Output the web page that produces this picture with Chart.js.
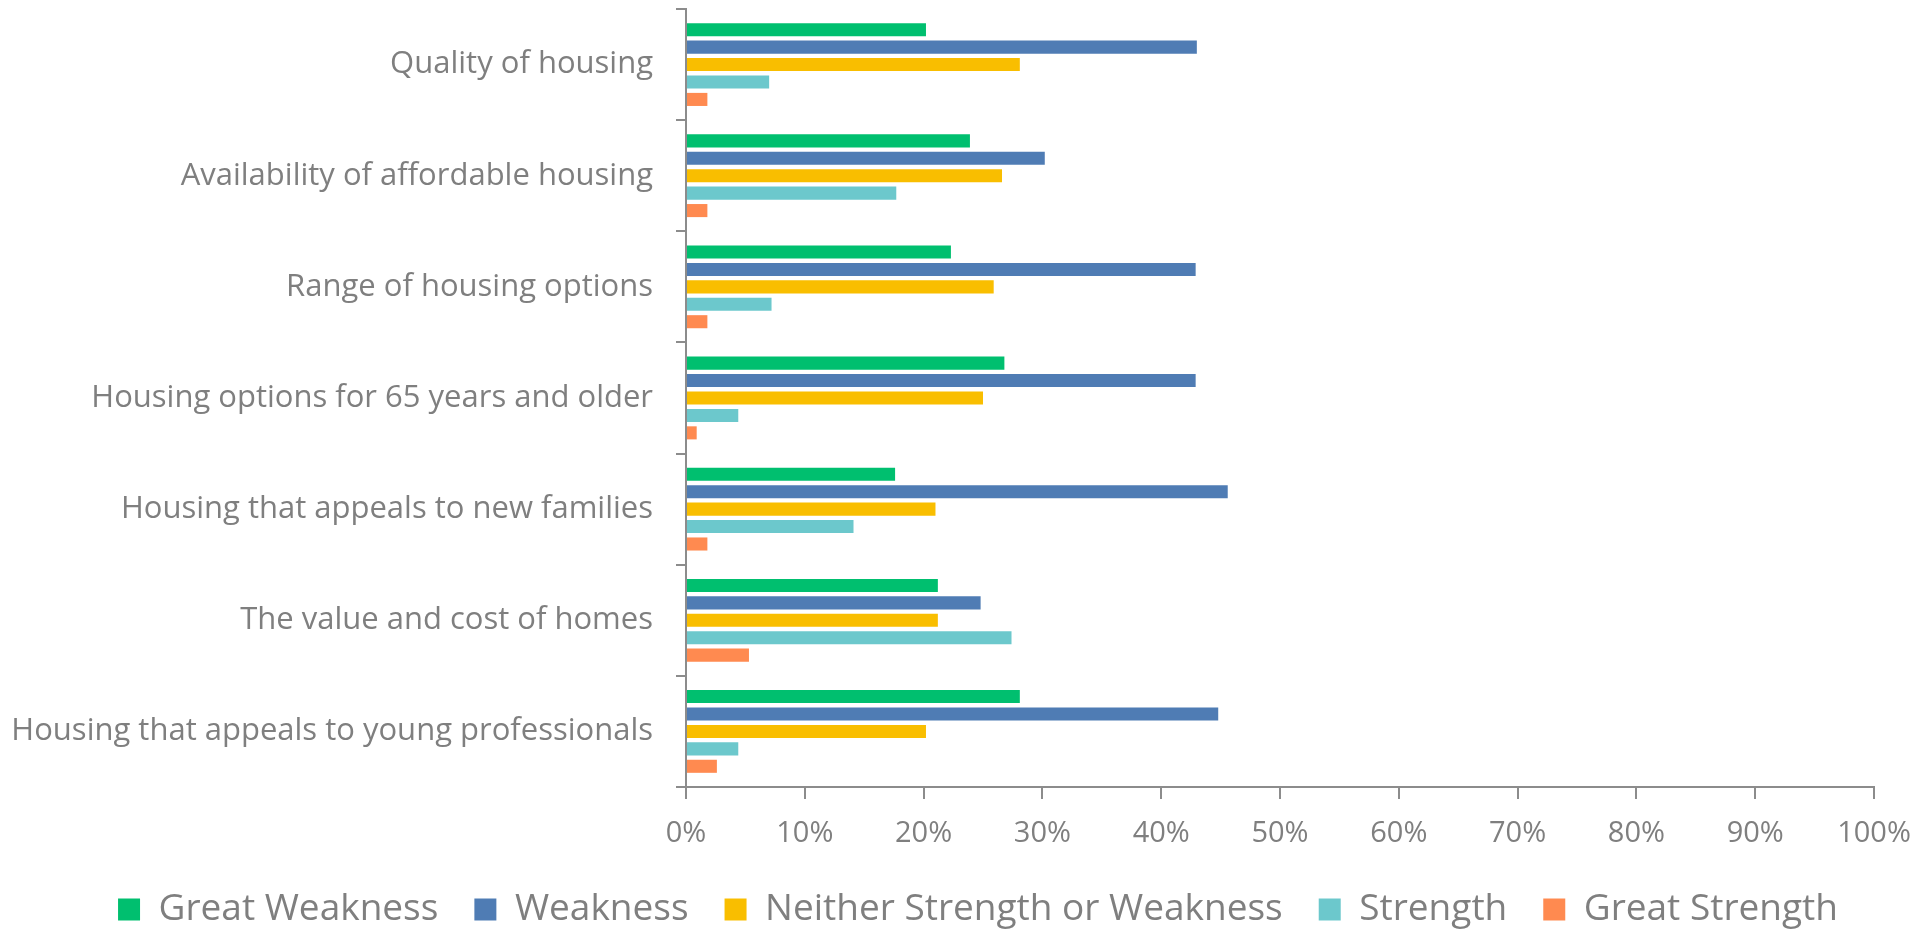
<!DOCTYPE html>
<html>
<head>
<meta charset="utf-8">
<script src="https://cdn.jsdelivr.net/npm/chart.js@4/dist/chart.umd.min.js"></script>
<style>
  html, body { margin: 0; padding: 0; background: #fff; }
  #wrap { width: 1932px; height: 930px; }
</style>
</head>
<body>
<div id="wrap"><canvas id="housing"></canvas></div>
<script>
const categories = [
  'Quality of housing',
  'Availability of affordable housing',
  'Range of housing options',
  'Housing options for 65 years and older',
  'Housing that appeals to new families',
  'The value and cost of homes',
  'Housing that appeals to young professionals',
]

const greatWeakness = [20.2, 23.9, 22.3, 26.8, 17.6, 21.2, 28.1]
const weakness      = [43.0, 30.2, 42.9, 42.9, 45.6, 24.8, 44.8]
const neither       = [28.1, 26.6, 25.9, 25.0, 21.0, 21.2, 20.2]
const strength      = [7.0, 17.7, 7.2, 4.4, 14.1, 27.4, 4.4]
const greatStrength = [1.8, 1.8, 1.8, 0.9, 1.8, 5.3, 2.6]

const xTicks = [0, 10, 20, 30, 40, 50, 60, 70, 80, 90, 100]

const GREY = '#7f7f7f'
const AXIS = '#8c8c8c'
const FONT = '"Open Sans", sans-serif'

const series = [
  { label: 'Great Weakness', data: greatWeakness, color: '#00bf6f' },
  { label: 'Weakness', data: weakness, color: '#4f7cb4' },
  { label: 'Neither Strength or Weakness', data: neither, color: '#f9be00' },
  { label: 'Strength', data: strength, color: '#6cc8cc' },
  { label: 'Great Strength', data: greatStrength, color: '#ff8a50' },
]

// nudge the legend row so it is centred under the whole chart, labels included
const legendShift = {
  id: 'legendShift',
  afterLayout(chart) {
    if (chart.legend) chart.legend.left += 82
  },
}

new Chart(document.getElementById('housing').getContext('2d'), {
  type: 'bar',
  data: {
    labels: categories,
    datasets: series.map(s => ({
      label: s.label,
      data: s.data,
      backgroundColor: s.color,
      borderWidth: 0,
      categoryPercentage: 0.784,
      barPercentage: 0.75,
    })),
  },
  plugins: [legendShift],
  options: {
    indexAxis: 'y',
    responsive: true,
    maintainAspectRatio: false,
    animation: false,
    layout: { padding: { top: 9, right: 58, left: 0, bottom: -8 } },
    plugins: {
      tooltip: { enabled: false },
      legend: {
        position: 'bottom',
        labels: {
          color: GREY,
          font: { family: FONT, size: 37 },
          boxWidth: 22,
          boxHeight: 22,
          padding: 36,
        },
      },
    },
    scales: {
      y: {
        // fixed label column so the axis sits at x=686
        afterFit: s => { s.width = 686; s.paddingTop = 0; s.paddingBottom = 0 },
        grid: {
          offset: true,
          drawOnChartArea: false,
          color: AXIS,
          lineWidth: 2,
          tickLength: 10,
        },
        border: { color: AXIS, width: 2 },
        ticks: {
          color: GREY,
          padding: 23,
          font: { family: FONT, size: 31 },
        },
      },
      x: {
        min: 0,
        max: 100,
        afterBuildTicks: s => { s.ticks = xTicks.map(v => ({ value: v })) },
        afterFit: s => { s.height = 68 },
        grid: {
          drawOnChartArea: false,
          color: AXIS,
          lineWidth: 2,
          tickLength: 12,
        },
        border: { color: AXIS, width: 2 },
        ticks: {
          color: GREY,
          padding: 17,
          font: { family: FONT, size: 29 },
          callback: v => v + '%',
        },
      },
    },
  },
})
</script>
</body>
</html>
